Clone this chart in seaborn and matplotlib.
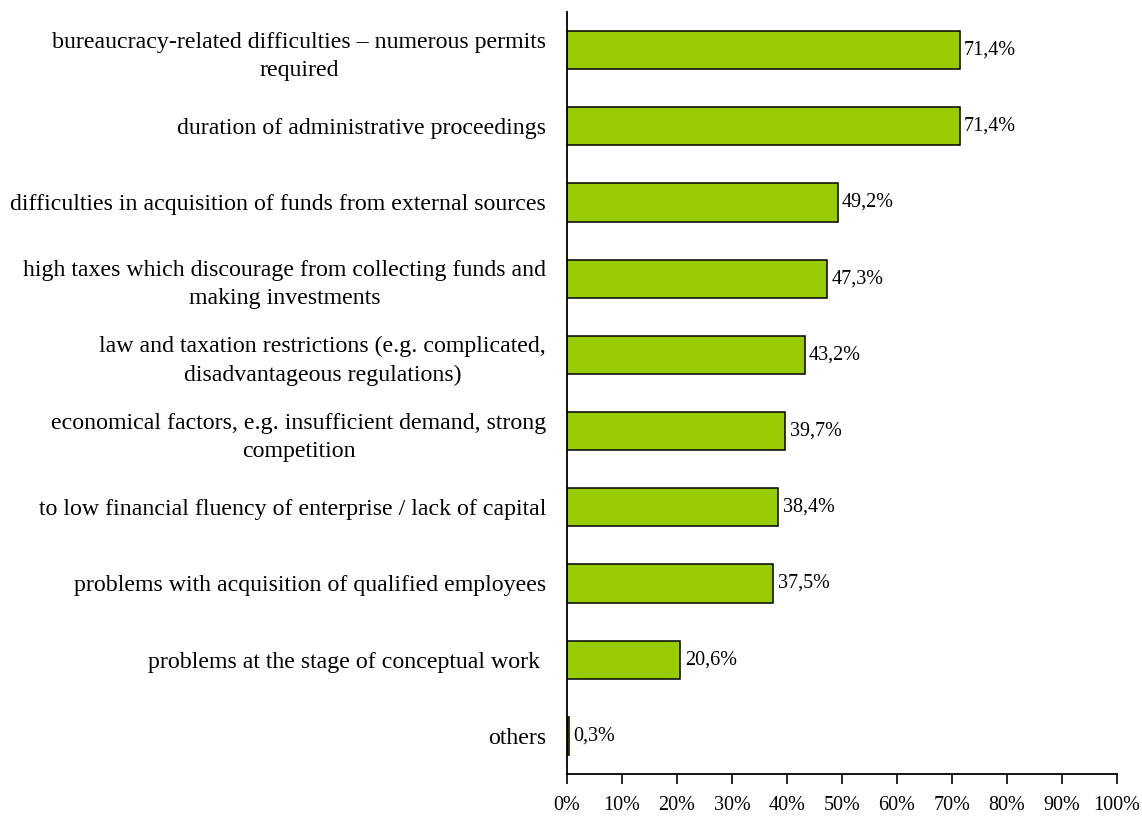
import matplotlib
matplotlib.use("Agg")
import matplotlib.pyplot as plt
import seaborn as sns
import pandas as pd

categories = [
    "bureaucracy-related difficulties \u2013 numerous permits\nrequired",
    "duration of administrative proceedings",
    "difficulties in acquisition of funds from external sources",
    "high taxes which discourage from collecting funds and\nmaking investments",
    "law and taxation restrictions (e.g. complicated,\ndisadvantageous regulations)",
    "economical factors, e.g. insufficient demand, strong\ncompetition",
    "to low financial fluency of enterprise / lack of capital",
    "problems with acquisition of qualified employees",
    "problems at the stage of conceptual work ",
    "others",
]
values = [71.4, 71.4, 49.2, 47.3, 43.2, 39.7, 38.4, 37.5, 20.6, 0.3]
value_labels = ["71,4%", "71,4%", "49,2%", "47,3%", "43,2%", "39,7%", "38,4%", "37,5%", "20,6%", "0,3%"]
xticks = [0, 10, 20, 30, 40, 50, 60, 70, 80, 90, 100]
xtick_labels = [f"{t}%" for t in xticks]

df = pd.DataFrame({"category": categories, "value": values})

sns.set_theme(style="white")
plt.rcParams["font.family"] = ["Liberation Serif", "DejaVu Serif"]

fig = plt.figure(figsize=(11.42, 8.16), dpi=100)
ax = fig.add_axes([567/1142, 1 - 774/816, (1117-567)/1142, (774-12)/816])

sns.barplot(data=df, x="value", y="category", orient="h", color="#99CC00",
            edgecolor="black", linewidth=1.1, width=0.5, saturation=1, ax=ax)

ax.set_xlim(0, 100)
ax.set_ylim(9.5, -0.5)
ax.set_xticks(xticks)
ax.set_xticklabels(xtick_labels, fontsize=14.5)
ax.set_xlabel("")
ax.set_ylabel("")
for lbl in ax.get_yticklabels():
    lbl.set_fontsize(17.2)
    lbl.set_multialignment("center")
    lbl.set_linespacing(1.45)
    lbl.set_color("black")
for lbl in ax.get_xticklabels():
    lbl.set_color("black")
ax.tick_params(axis="y", length=0, pad=15)
ax.tick_params(axis="x", direction="out", length=7, width=1.2, color="black", pad=9, bottom=True)

for s in ["top", "right"]:
    ax.spines[s].set_visible(False)
for s in ["left", "bottom"]:
    ax.spines[s].set_color("black")
    ax.spines[s].set_linewidth(1.3)
    ax.spines[s].set_zorder(5)

for i, (v, t) in enumerate(zip(values, value_labels)):
    ax.text(v + 0.8, i, t, va="center", ha="left", fontsize=14.5, color="black")

fig.savefig("out.png", dpi=100)
